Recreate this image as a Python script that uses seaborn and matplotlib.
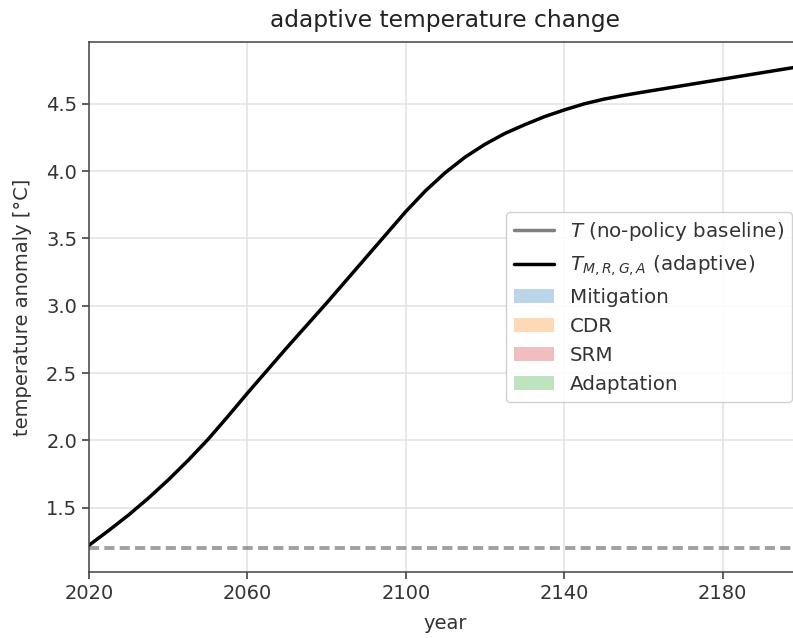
import numpy as np
import pandas as pd
import matplotlib.pyplot as plt
import seaborn as sns
from matplotlib.lines import Line2D
from matplotlib.patches import Patch

# Adaptive temperature path (every 5 years)
years = list(range(2020, 2201, 5))
temp_adaptive = [1.22, 1.33, 1.445, 1.57, 1.705, 1.85, 2.005, 2.175, 2.35, 2.52,
                 2.69, 2.855, 3.02, 3.19, 3.36, 3.53, 3.70, 3.855, 3.99, 4.105,
                 4.20, 4.28, 4.345, 4.405, 4.455, 4.50, 4.535, 4.563, 4.588, 4.612,
                 4.636, 4.66, 4.684, 4.708, 4.732, 4.756, 4.78]
temp_start = 1.2
x_ticks = [2020, 2060, 2100, 2140, 2180]
lever_names = ["Mitigation", "CDR", "SRM", "Adaptation"]
lever_colors = ["tab:blue", "tab:orange", "tab:red", "tab:green"]

df = pd.DataFrame({"year": years, "temp": temp_adaptive})

sns.set_style("ticks")
plt.rcParams['font.family'] = ['DejaVu Sans']
plt.rcParams['font.size'] = 14

fig = plt.figure(figsize=(7.93, 6.38), dpi=100)
ax = fig.add_axes([0.1122, 0.1034, 0.899, 0.8306])

ax.axhline(temp_start, color="gray", linestyle="--", linewidth=2.8, alpha=0.75,
           dashes=(2.6, 1.35))
sns.lineplot(data=df, x="year", y="temp", color="black", linewidth=2.5, ax=ax)

ax.set_xlim(2020, 2200)
ax.margins(y=0.05)
ax.set_xticks(x_ticks)
ax.grid(True, color="#e2e2e2", linewidth=1.1)
ax.tick_params(labelsize=14, length=5, width=1.1, colors="#333333")
ax.set_xlabel("year", fontsize=14, color="#333333", labelpad=8)
ax.set_ylabel("temperature anomaly [°C]", fontsize=14, color="#333333", labelpad=10)
ax.set_title("adaptive temperature change", fontsize=16.8, color="#222222", pad=11)
for s in ax.spines.values():
    s.set_color("#444444")
    s.set_linewidth(1.1)

handles = [Line2D([], [], color="gray", linewidth=2.5),
           Line2D([], [], color="black", linewidth=2.5)]
labels = [r"$T$ (no-policy baseline)", r"$T_{M,R,G,A}$ (adaptive)"]
for name, c in zip(lever_names, lever_colors):
    handles.append(Patch(facecolor=c, alpha=0.3, edgecolor="none"))
    labels.append(name)
leg = ax.legend(handles, labels, loc="center right", fontsize=14.3, framealpha=0.9)
for t in leg.get_texts():
    t.set_color("#333333")

plt.savefig("out.png", dpi=100)
